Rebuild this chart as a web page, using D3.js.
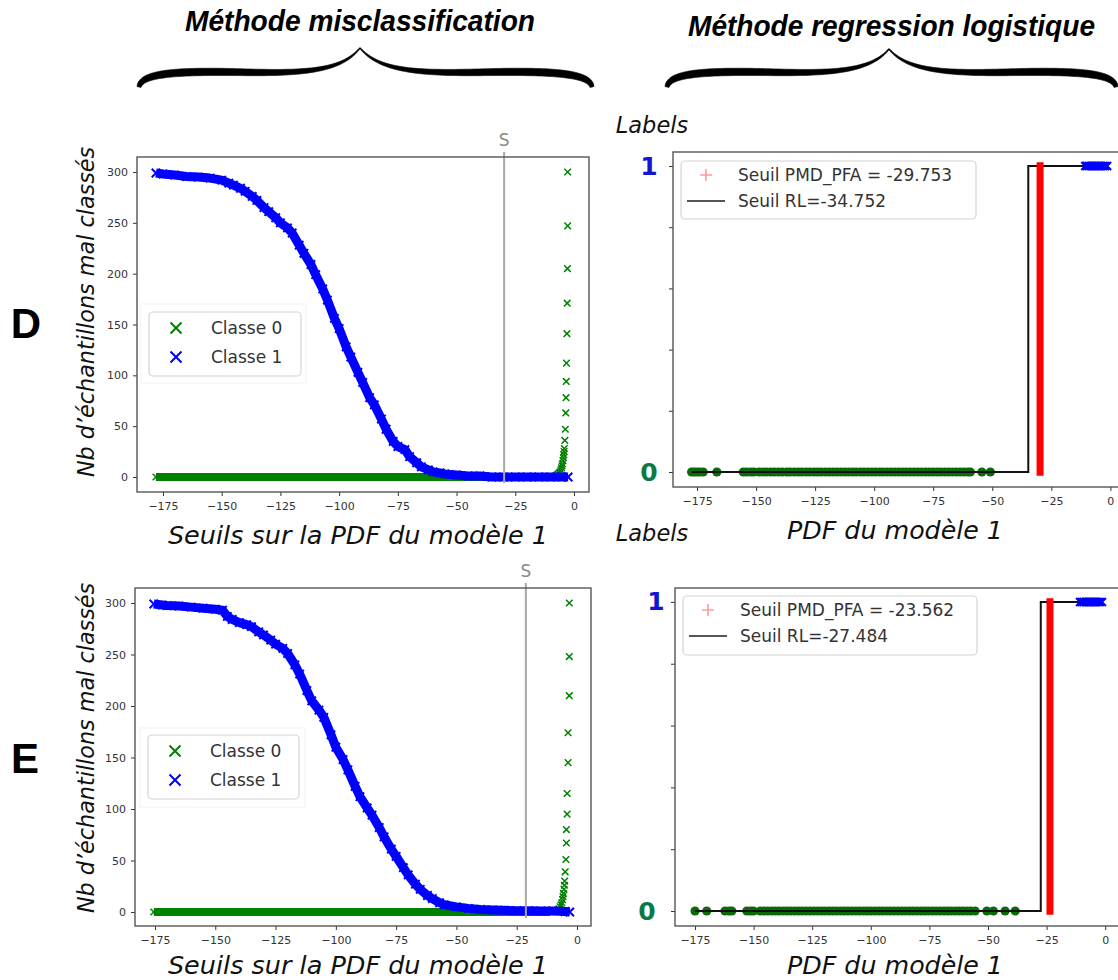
<!DOCTYPE html>
<html><head><meta charset="utf-8">
<script src="https://cdn.jsdelivr.net/npm/d3@7/dist/d3.min.js"></script>
<style>
html,body{margin:0;padding:0;background:#fff;}
svg{display:block;}
</style></head>
<body>
<svg id="chart" width="1118" height="980"></svg>
<script>
// ================= DATA =================
const xTickValues = [-175,-150,-125,-100,-75,-50,-25,0];
const countTickValues = [0,50,100,150,200,250,300];
const labelTickValues = [0,0.2,0.4,0.6,0.8,1];

const panelLetters = ["D","E"];
const columnTitles = ["Méthode misclassification","Méthode regression logistique"];
const legendClasses = ["Classe 0","Classe 1"];
const yLabelMiscl = "Nb d’échantillons mal classés";
const xLabelMiscl = "Seuils sur la PDF du modèle 1";
const xLabelRL = "PDF du modèle 1";
const yLabelRL = "Labels";

// ---- Row D : misclassification ----
const class1X_D = [-178,-175,-170,-165,-160,-155,-150,-147,-145,-142,-140,-137,-135,-132,-130,-127,-125,-122,-120,-117,-115,-112,-110,-107,-105,-102,-100,-97,-95,-92,-90,-87,-85,-82,-80,-77,-75,-72,-70,-67,-65,-62,-60,-57,-55,-50,-45,-40,-35,-30,-25,-20,-15,-10,-5,-2.5];
const class1N_D = [299,298,297,295.5,295,294,292,289,287,284,281,276,272,265,261,255,250,245,240,228,220,209,199,185,174,156,146,128,118,103,93,78,71,57,47,35,30,27,20,14,10,7,5,4,3,2,1,1,0,0,0,0,0,0,0,0];
const class0X_D = [-178,-172,-166,-160,-154,-148,-142,-136,-130,-124,-118,-112,-106,-100,-94,-88,-82,-76,-70,-64,-58,-52,-46,-40,-34,-28,-22,-16,-12,-9,
  -8,-7.4,-6.8,-6.2,-5.9,-5.6,-5.3,-5.1,-4.9,-4.7,-4.5,-4.4,-4.2,-4.1,-3.9,-3.7,-3.5,-3.4,-3.3,-3.2,-3.0,-2.9,-2.8,-2.7,-2.7];
const class0N_D = [0,0,0,0,0,0,0,0,0,0,0,0,0,0,0,0,0,0,0,0,0,0,0,0,0,0,0,0,0,0,
  1,2,3,4,5,7,9,11,13,16,19,22,25,28,36,47,63,78,94,112,141,171,205,247,300];
const seuilS_D = -29.753;

// ---- Row E : misclassification ----
const class1X_E = [-175.5,-172,-170,-165,-160,-155,-150,-147,-145,-143,-140,-137,-135,-132,-130,-127,-125,-122,-120,-117,-115,-112,-110,-107,-105,-102,-100,-97,-95,-92,-90,-87,-85,-82,-80,-77,-75,-72,-70,-67,-65,-62,-60,-57,-55,-50,-45,-40,-35,-30,-25,-20,-15,-10,-5,-3];
const class1N_E = [299,298,297.5,297,296,295,294,293,287,284,281,279,277,272,269,264,260,256,251,240,231,215,205,196,189,172,160,148,138,122,112,101,94,82,73,61,54,43,36,27,22,16,13,9,7,5,3.5,2.5,2,1.6,1.3,1.2,1,1,0.5,0];
const class0X_E = [-175.5,-170,-164,-158,-152,-146,-140,-134,-128,-122,-116,-110,-104,-98,-92,-86,-80,-74,-68,-62,-56,-50,-44,-38,-32,-26,-20,-15,-11,
  -9,-8,-7.5,-7,-6.6,-6.3,-6,-5.8,-5.6,-5.4,-5.2,-5.1,-4.9,-4.6,-4.4,-4.4,-4.1,-4.1,-3.7,-3.7,-3.2,-3.2,-3.2];
const class0N_E = [0,0,0,0,0,0,0,0,0,0,0,0,0,0,0,0,0,0,0,0,0,0,0,0,0,0,0,0,0,
  1,2,3,5,7,9,12,15,18,22,26,30,39,51,67,80,95,115,145,174,210,248,300];
const seuilS_E = -21.2;

// ---- Row D : logistic regression ----
const rlLabel0_D = [-177.3,-176.2,-175.1,-173.9,-172.4,-166.6,-155.4,-154.0,-152.3,-150.9,-148.7,-147.1,-145.6,-143.8,-142.2,-140.5,-138.9,-137.0,-135.6,-133.8,-132.1,-130.6,-128.8,-127.3,-125.5,-123.9,-122.4,-120.6,-119.0,-117.3,-115.7,-114.1,-112.4,-110.8,-109.1,-107.6,-105.8,-104.3,-102.6,-101.0,-99.4,-97.7,-96.2,-94.5,-92.9,-91.3,-89.6,-88.0,-86.4,-84.8,-83.1,-81.5,-79.9,-78.2,-76.6,-75.0,-73.3,-71.8,-70.1,-68.5,-66.8,-65.2,-63.6,-62.0,-60.4,-59.3,-54.4,-50.8];
const rlLabel1_D = [-10.6,-9.9,-9.1,-8.4,-7.6,-6.8,-6.1,-5.3,-4.6,-3.8,-3.0,-2.3,-1.4];
const seuilPMD_D = -29.753;
const seuilRL_D = -34.752;

// ---- Row E : logistic regression ----
const rlLabel0_E = [-175.0,-170.0,-162.2,-160.5,-159.3,-152.9,-151.4,-150.1,-147.2,-145.6,-144.0,-142.3,-140.7,-139.1,-137.4,-135.8,-134.2,-132.5,-130.9,-129.3,-127.6,-126.0,-124.4,-122.7,-121.1,-119.5,-117.8,-116.2,-114.6,-112.9,-111.3,-109.7,-108.0,-106.4,-104.8,-103.1,-101.5,-99.9,-98.2,-96.6,-95.0,-93.3,-91.7,-90.1,-88.4,-86.8,-85.2,-83.5,-81.9,-80.3,-78.6,-77.0,-75.4,-73.7,-72.1,-70.5,-68.8,-67.2,-65.6,-63.9,-62.3,-60.7,-59.0,-57.4,-55.5,-50.5,-47.7,-42.7,-38.4];
const rlLabel1_E = [-10.7,-9.9,-9.2,-8.4,-7.7,-6.9,-6.2,-5.4,-4.6,-3.9,-3.1,-2.3,-1.4];
const seuilPMD_E = -23.562;
const seuilRL_E = -27.484;

// ================= DRAWING =================
const svg = d3.select("#chart");
const defs = svg.append("defs");
const FONT = "'DejaVu Sans', sans-serif";
const GREEN = "#008000", BLUE = "#0000ff";
let clipId = 0;

function xMark(s){ return `M${-s},${-s}L${s},${s}M${-s},${s}L${s},${-s}`; }
function plusMark(s){ return `M${-s},0H${s}M0,${-s}V${s}`; }

function makePanel(box, xd, yd){
  const [x0,y0,x1,y1] = box;
  const x = d3.scaleLinear().domain(xd).range([x0,x1]);
  const y = d3.scaleLinear().domain(yd).range([y1,y0]);
  const id = "clip" + (clipId++);
  defs.append("clipPath").attr("id",id).append("rect")
    .attr("x",x0).attr("y",y0).attr("width",x1-x0).attr("height",y1-y0);
  const g = svg.append("g");
  const plot = g.append("g").attr("clip-path",`url(#${id})`);
  return {x,y,g,plot,box};
}

function drawAxes(p, yTicks, showYLabels){
  const [x0,y0,x1,y1] = p.box;
  const xa = d3.axisBottom(p.x).tickValues(xTickValues).tickSize(4).tickPadding(6).tickFormat(d3.format("d"));
  const gx = p.g.append("g").attr("transform",`translate(0,${y1})`).call(xa);
  const ya = d3.axisLeft(p.y).tickValues(yTicks).tickSize(4).tickPadding(5)
    .tickFormat(showYLabels ? d3.format("d") : () => "");
  const gy = p.g.append("g").attr("transform",`translate(${x0},0)`).call(ya);
  [gx,gy].forEach(a=>{
    a.select(".domain").remove();
    a.selectAll(".tick line").attr("stroke","#333").attr("stroke-width",1);
    a.selectAll(".tick text").attr("fill","#333").style("font-family",FONT).style("font-size","11px");
  });
  p.g.append("rect").attr("x",x0).attr("y",y0).attr("width",x1-x0).attr("height",y1-y0)
    .attr("fill","none").attr("stroke","#555").attr("stroke-width",1.4);
}

function drawMiscl(p, c0x, c0n, c1x, c1n, sVal){
  const line = d3.line().x(d=>p.x(d.x)).y(d=>p.y(d.n));
  const c0 = c0x.map((v,i)=>({x:v,n:c0n[i]}));
  const c1 = c1x.map((v,i)=>({x:v,n:c1n[i]}));
  // class 0 (green)
  p.plot.append("path").datum(c0.filter(d=>d.n===0)).attr("d",line)
    .attr("fill","none").attr("stroke",GREEN).attr("stroke-width",8);
  p.plot.selectAll(null).data(c0).join("path")
    .attr("transform",d=>`translate(${p.x(d.x)},${p.y(d.n)})`)
    .attr("d",xMark(3.3)).attr("fill","none").attr("stroke",GREEN).attr("stroke-width",1.5);
  // class 1 (blue)
  p.plot.append("path").datum(c1).attr("d",line)
    .attr("fill","none").attr("stroke",BLUE).attr("stroke-width",9).attr("stroke-linejoin","round");
  p.plot.selectAll(null).data(c1).join("path")
    .attr("transform",d=>`translate(${p.x(d.x)},${p.y(d.n)})`)
    .attr("d",xMark(4.2)).attr("fill","none").attr("stroke",BLUE).attr("stroke-width",2);
  // S line
  const sx = p.x(sVal);
  p.g.append("line").attr("x1",sx).attr("x2",sx).attr("y1",p.box[1]-5).attr("y2",p.y(0)+6)
    .attr("stroke","#a8a8a8").attr("stroke-width",2);
  p.g.append("text").attr("x",sx).attr("y",p.box[1]-17).attr("text-anchor","middle")
    .attr("dominant-baseline","central").attr("fill","#888")
    .style("font-family",FONT).style("font-size","17px").text("S");
}

function missLegend(outer, box){
  svg.append("rect").attr("x",outer[0]).attr("y",outer[1]).attr("width",outer[2]-outer[0]).attr("height",outer[3]-outer[1])
    .attr("fill","#fff").attr("stroke","#f1f1f1").attr("stroke-width",1);
  svg.append("rect").attr("x",box[0]).attr("y",box[1]).attr("width",box[2]-box[0]).attr("height",box[3]-box[1])
    .attr("rx",4).attr("fill","#fff").attr("stroke","#d4d4d4").attr("stroke-width",1.2);
  const cols = [GREEN, BLUE];
  legendClasses.forEach((lab,i)=>{
    const yy = box[1] + 16 + i*29;
    svg.append("path").attr("transform",`translate(${box[0]+27},${yy})`).attr("d",xMark(5.5))
      .attr("fill","none").attr("stroke",cols[i]).attr("stroke-width",2);
    svg.append("text").attr("x",box[0]+62).attr("y",yy).attr("dominant-baseline","central")
      .attr("fill","#333").style("font-family",FONT).style("font-size","17px").text(lab);
  });
}

function drawRL(p, lab0, lab1, thrPMD, thrRL){
  p.plot.selectAll(null).data(lab0).join("circle")
    .attr("cx",d=>p.x(d)).attr("cy",p.y(0)).attr("r",4.6).attr("fill","#0a6a0a");
  const step = [{x:d3.min(lab0),v:0},{x:thrRL,v:0},{x:thrRL,v:1},{x:d3.max(lab1),v:1}];
  p.plot.append("path").datum(step).attr("d",d3.line().x(d=>p.x(d.x)).y(d=>p.y(d.v)))
    .attr("fill","none").attr("stroke","#111").attr("stroke-width",2);
  p.plot.selectAll(null).data(lab1).join("path")
    .attr("transform",d=>`translate(${p.x(d)},${p.y(1)})`)
    .attr("d",xMark(4)).attr("fill","none").attr("stroke",BLUE).attr("stroke-width",2.2);
  const rx = p.x(thrPMD);
  p.plot.append("line").attr("x1",rx).attr("x2",rx).attr("y1",p.y(-0.012)).attr("y2",p.y(1.012))
    .attr("stroke","#ff0000").attr("stroke-width",7);
}

function rlLegend(box, thrPMD, thrRL){
  svg.append("rect").attr("x",box[0]).attr("y",box[1]).attr("width",box[2]-box[0]).attr("height",box[3]-box[1])
    .attr("rx",4).attr("fill","#fff").attr("fill-opacity",0.9).attr("stroke","#d4d4d4").attr("stroke-width",1.2);
  const y1 = box[1]+14, y2 = box[1]+40;
  svg.append("path").attr("transform",`translate(${box[0]+25},${y1})`).attr("d",plusMark(6))
    .attr("stroke","#ff0000").attr("stroke-opacity",0.4).attr("stroke-width",1.6);
  svg.append("line").attr("x1",box[0]+6).attr("x2",box[0]+44).attr("y1",y2).attr("y2",y2)
    .attr("stroke","#555").attr("stroke-width",2);
  svg.append("text").attr("x",box[0]+57).attr("y",y1).attr("dominant-baseline","central")
    .attr("fill","#333").style("font-family",FONT).style("font-size","17px").text(`Seuil PMD_PFA = ${thrPMD}`);
  svg.append("text").attr("x",box[0]+57).attr("y",y2).attr("dominant-baseline","central")
    .attr("fill","#333").style("font-family",FONT).style("font-size","17px").text(`Seuil RL=${thrRL}`);
}

function bigLabels(p, x1, x0){
  svg.append("text").attr("x",x1).attr("y",p.y(1)).attr("text-anchor","middle").attr("dominant-baseline","central")
    .attr("fill","#1414d2").style("font-family",FONT).style("font-weight","bold").style("font-size","25px").text("1");
  svg.append("text").attr("x",x0).attr("y",p.y(0)).attr("text-anchor","middle").attr("dominant-baseline","central")
    .attr("fill","#0b7a45").style("font-family",FONT).style("font-weight","bold").style("font-size","25px").text("0");
}

function italicText(x,y,txt,size,rot){
  const t = svg.append("text").attr("text-anchor","middle").attr("dominant-baseline","central")
    .attr("fill","#111").style("font-family",FONT).style("font-style","italic").style("font-size",size+"px").text(txt);
  if(rot) t.attr("transform",`translate(${x},${y}) rotate(-90)`); else t.attr("x",x).attr("y",y);
}

// ---------- panels ----------
const pDL = makePanel([137,157,589,492],[-186.07,6.39],[-14.75,314.75]);
drawMiscl(pDL, class0X_D, class0N_D, class1X_D, class1N_D, seuilS_D);
drawAxes(pDL, countTickValues, true);
missLegend([141,304,306,383],[149,312,301,376]);

const pEL = makePanel([135,588,591,926],[-183.29,5.81],[-13.6,314.56]);
drawMiscl(pEL, class0X_E, class0N_E, class1X_E, class1N_E, seuilS_E);
drawAxes(pEL, countTickValues, true);
missLegend([140,728,305,807],[148,735,299,799]);

const pDR = makePanel([673,152,1126,487],[-185.17,6.62],[-0.049,1.0458]);
drawRL(pDR, rlLabel0_D, rlLabel1_D, seuilPMD_D, seuilRL_D);
drawAxes(pDR, labelTickValues, false);
rlLegend([681,161,976,219], seuilPMD_D, seuilRL_D);
bigLabels(pDR, 649, 649);

const pER = makePanel([675,588,1122,926],[-183.54,7.17],[-0.0485,1.045]);
drawRL(pER, rlLabel0_E, rlLabel1_E, seuilPMD_E, seuilRL_E);
drawAxes(pER, labelTickValues, false);
rlLegend([683,596,977,655], seuilPMD_E, seuilRL_E);
bigLabels(pER, 656, 647);

// ---------- axis titles ----------
italicText(86, 312, yLabelMiscl, 22.3, true);
italicText(86, 748, yLabelMiscl, 22.3, true);
italicText(358, 535, xLabelMiscl, 25.5);
italicText(358, 965, xLabelMiscl, 25.5);
italicText(895, 530, xLabelRL, 25.3);
italicText(895, 965, xLabelRL, 25.3);
italicText(652, 125, yLabelRL, 22.5);
italicText(652, 533, yLabelRL, 22.5);

// ---------- row letters ----------
[[26,323],[25,758]].forEach((pos,i)=>{
  svg.append("text").attr("x",pos[0]).attr("y",pos[1]).attr("text-anchor","middle").attr("dominant-baseline","central")
    .attr("fill","#000").style("font-family","'Liberation Sans', Arial, sans-serif").style("font-weight","bold")
    .style("font-size","42px").text(panelLetters[i]);
});

// ---------- column titles ----------
[[185,31,350],[688,36,407]].forEach((pos,i)=>{
  svg.append("text").attr("x",pos[0]).attr("y",pos[1]).attr("textLength",pos[2]).attr("lengthAdjust","spacingAndGlyphs")
    .attr("fill","#000").style("font-family","'Liberation Sans', Arial, sans-serif").style("font-weight","bold")
    .style("font-style","italic").style("font-size","29px").text(columnTitles[i]);
});

// ---------- braces ----------
function bez(P,t){const u=1-t;return [0,1].map(k=>u*u*u*P[0][k]+3*u*u*t*P[1][k]+3*u*t*t*P[2][k]+t*t*t*P[3][k]);}
function arm(xe, xm, yE, yF, yT){
  const w = xm - xe;
  const s1=[[xe,yE],[xe+0.01*w,yF+4],[xe+0.12*w,yF],[xe+0.42*w,yF+1]];
  const s2=[[xe+0.42*w,yF+1],[xe+0.72*w,yF+2.5],[xm-0.09*w,yF+2],[xm,yT]];
  const pts=[];
  for(let i=0;i<=40;i++) pts.push(bez(s1,i/40));
  for(let i=1;i<=40;i++) pts.push(bez(s2,i/40));
  const N=pts.length, A=[], B=[];
  for(let i=0;i<N;i++){
    const a=pts[Math.max(0,i-1)], b=pts[Math.min(N-1,i+1)];
    let tx=b[0]-a[0], ty=b[1]-a[1]; const L=Math.hypot(tx,ty)||1; tx/=L; ty/=L;
    const u=i/(N-1);
    const hw = 2.0*(1-u) + 0.5*u + 2.3*Math.sin(Math.PI*Math.pow(u,0.8));
    A.push([pts[i][0]-ty*hw, pts[i][1]+tx*hw]);
    B.push([pts[i][0]+ty*hw, pts[i][1]-tx*hw]);
  }
  return A.concat(B.reverse());
}
function brace(x0,xm,x1,yE,yF,yT){
  [arm(x0,xm,yE,yF,yT), arm(x1,xm,yE,yF,yT)].forEach(poly=>{
    svg.append("path").attr("d","M"+poly.map(p=>p.join(",")).join("L")+"Z").attr("fill","#000")
      .attr("stroke","#000").attr("stroke-width",0.6).attr("stroke-linejoin","round");
  });
}
brace(139,360,592,87,71,48);
brace(667,889,1116,87,71,49);
</script>
</body></html>
